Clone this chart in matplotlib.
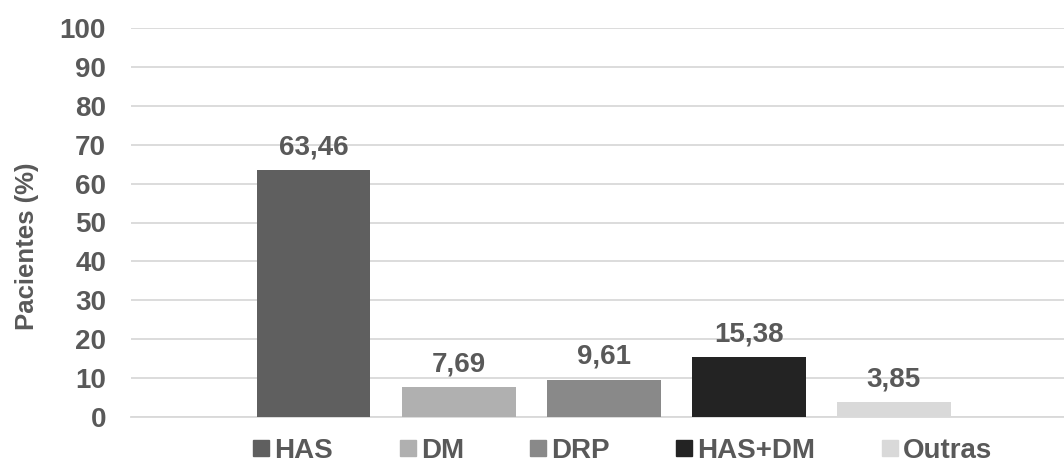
import matplotlib.pyplot as plt
from matplotlib.lines import Line2D

categories = ["HAS", "DM", "DRP", "HAS+DM", "Outras"]
values = [63.46, 7.69, 9.61, 15.38, 3.85]
value_labels = ["63,46", "7,69", "9,61", "15,38", "3,85"]
colors = ["#5f5f5f", "#b0b0b0", "#898989", "#232323", "#d9d9d9"]
yticks = [0, 10, 20, 30, 40, 50, 60, 70, 80, 90, 100]

text_color = "#595959"
plt.rcParams["font.family"] = ["Liberation Sans", "DejaVu Sans"]
plt.rcParams["font.weight"] = "bold"

fig = plt.figure(figsize=(10.64, 4.62), dpi=100)
ax = fig.add_axes([131 / 1064, 1 - 417 / 462, (1064 - 131) / 1064, (417 - 28) / 462])

positions = list(range(len(categories)))
bars = ax.bar(positions, values, width=0.785, color=colors, zorder=3)

for bar, lab in zip(bars, value_labels):
    ax.annotate(lab, (bar.get_x() + bar.get_width() / 2, bar.get_height()),
                xytext=(0, 7), textcoords="offset points", ha="center", va="bottom",
                fontsize=20, fontweight="bold", color=text_color)

ax.set_ylim(0, 100)
ax.set_xlim(-1.258, 5.172)
ax.set_yticks(yticks)
ax.set_yticklabels([str(t) for t in yticks], fontsize=20, fontweight="bold", color=text_color)
ax.tick_params(axis="y", length=0, pad=18)
ax.set_xticks([])
ax.yaxis.grid(True, color="#d9d9d9", linewidth=1.3, zorder=0)
for side in ["top", "right", "left"]:
    ax.spines[side].set_visible(False)
ax.spines["bottom"].set_color("#d9d9d9")
ax.spines["bottom"].set_linewidth(1.3)

ax.set_ylabel("Pacientes (%)", fontsize=18.5, fontweight="bold", color=text_color, va="center")
ax.yaxis.set_label_coords(-0.112, 0.44)

handles = [Line2D([], [], marker="s", linestyle="none", markersize=11,
                  markerfacecolor=c, markeredgecolor=c) for c in colors]
leg = fig.legend(handles, categories, loc="center", bbox_to_anchor=(623 / 1064, 1 - 451 / 462),
                 ncol=5, frameon=False, fontsize=20, handlelength=0.55, handletextpad=0.2,
                 columnspacing=2.4, borderpad=0)
for t in leg.get_texts():
    t.set_color(text_color)
    t.set_fontweight("bold")

fig.savefig("out.png", dpi=100, facecolor="white")
